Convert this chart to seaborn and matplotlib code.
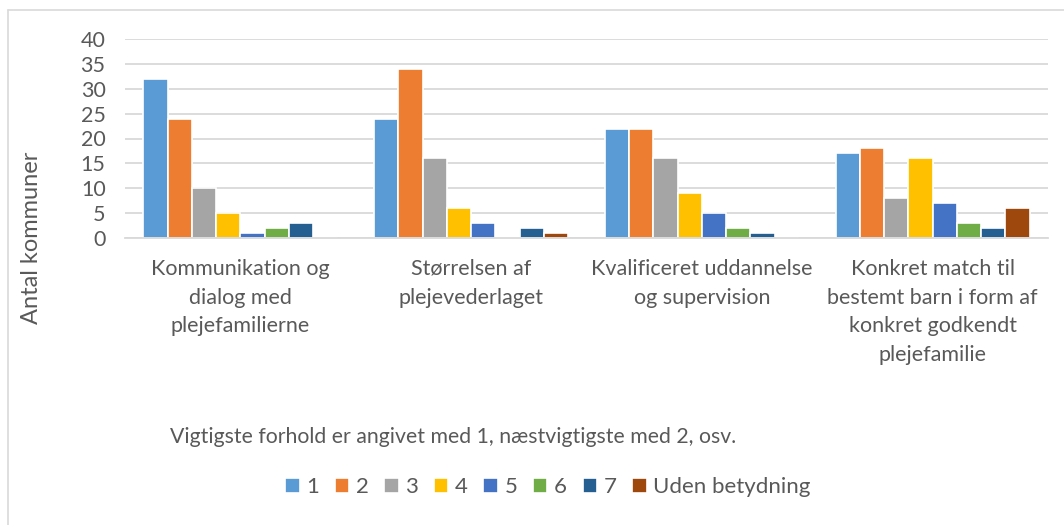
import numpy as np
import pandas as pd
import matplotlib.pyplot as plt
from matplotlib.lines import Line2D
import seaborn as sns

# data
categories = [
    "Kommunikation og\ndialog med\nplejefamilierne",
    "Størrelsen af\nplejevederlaget",
    "Kvalificeret uddannelse\nog supervision",
    "Konkret match til\nbestemt barn i form af\nkonkret godkendt\nplejefamilie",
]
ranks = ["1", "2", "3", "4", "5", "6", "7", "Uden betydning"]
vals_kommunikation = [32, 24, 10, 5, 1, 2, 3, 0]
vals_vederlag      = [24, 34, 16, 6, 3, 0, 2, 1]
vals_uddannelse    = [22, 22, 16, 9, 5, 2, 1, 0]
vals_match         = [17, 18, 8, 16, 7, 3, 2, 6]

colors = ["#5B9BD5", "#ED7D31", "#A5A5A5", "#FFC000",
          "#4472C4", "#70AD47", "#255E91", "#9E480E"]

rows = []
for cat, vals in zip(categories, [vals_kommunikation, vals_vederlag,
                                  vals_uddannelse, vals_match]):
    for r, v in zip(ranks, vals):
        rows.append({"kategori": cat, "rang": r, "antal": v})
df = pd.DataFrame(rows)

sns.set_style("white")
plt.rcParams["font.family"] = ["Lato", "DejaVu Sans"]
TXT = "#595959"
W, H = 1064, 525

fig = plt.figure(figsize=(W / 100, H / 100), dpi=100)
ax = fig.add_axes([125 / W, 1 - 238 / H, 923 / W, 199 / H])

sns.barplot(data=df, x="kategori", y="antal", hue="rang",
            order=categories, hue_order=ranks, palette=colors, saturation=1,
            width=0.84, edgecolor="white", linewidth=1.2, ax=ax)

ax.set_ylim(0, 40)
ax.set_yticks(range(0, 41, 5))
ax.set_xlim(-0.5, 3.5)
ax.yaxis.grid(True, color="#d9d9d9", linewidth=1.3)
ax.set_axisbelow(True)
for s in ["top", "right", "left"]:
    ax.spines[s].set_visible(False)
ax.spines["bottom"].set_color("#d9d9d9")
ax.spines["bottom"].set_linewidth(1.3)
ax.tick_params(axis="both", length=0, labelsize=15.5, colors=TXT)
ax.tick_params(axis="x", pad=15)
ax.tick_params(axis="y", pad=14)
for lbl in ax.get_xticklabels():
    lbl.set_linespacing(1.55)
ax.set_xlabel("")
ax.set_ylabel("Antal kommuner", fontsize=17, color=TXT)
ax.yaxis.set_label_coords(-0.09, 0.0)

handles, labels = ax.get_legend_handles_labels()
ax.get_legend().remove()
fig.legend(handles, labels, loc="center", bbox_to_anchor=(548 / W, 1 - 487 / H),
           ncol=8, frameon=False, fontsize=16, handlelength=0.65,
           handleheight=0.65, handletextpad=0.3, columnspacing=0.7,
           labelcolor=TXT)

fig.text(170 / W, 1 - 437 / H,
         "Vigtigste forhold er angivet med 1, næstvigtigste med 2, osv.",
         fontsize=15.3, color=TXT, ha="left", va="center")

# chart frame (only top and left edges are visible in the reference)
fig.add_artist(Line2D([8 / W, 1], [1 - 10 / H, 1 - 10 / H],
                      transform=fig.transFigure, color="#d9d9d9", linewidth=1.2))
fig.add_artist(Line2D([8 / W, 8 / W], [0, 1 - 10 / H],
                      transform=fig.transFigure, color="#d9d9d9", linewidth=1.2))

fig.savefig("out.png", dpi=100)
